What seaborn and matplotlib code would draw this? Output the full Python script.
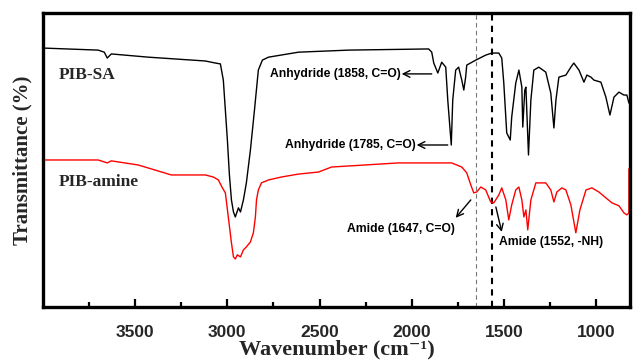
import numpy as np
import pandas as pd
import matplotlib
matplotlib.use("Agg")
import matplotlib.pyplot as plt
import seaborn as sns

# ---- data ----
sa_wavenumber = [4000, 3701, 3668, 3652, 3630, 3429, 3120, 3065, 3038, 3022, 3011, 3000, 2989,
                 2978, 2967, 2957, 2940, 2929, 2913, 2897, 2875, 2853, 2832, 2810, 2777, 2614,
                 2342, 1908, 1891, 1880, 1858, 1837, 1815, 1804, 1785, 1777, 1761, 1745, 1728,
                 1717, 1707, 1701, 1652, 1598, 1565, 1527, 1511, 1500, 1484, 1465, 1457, 1435,
                 1418, 1402, 1397, 1386, 1380, 1366, 1353, 1337, 1310, 1272, 1245, 1228, 1217,
                 1201, 1163, 1136, 1120, 1092, 1065, 1049, 1027, 1011, 973, 946, 924, 902,
                 875, 848, 832, 821]
sa_transmittance = [88.1, 87.4, 86.7, 84.7, 86.1, 85.0, 83.7, 83.0, 82.7, 77.2, 67.0, 56.8, 44.9,
                    36.4, 32.3, 30.6, 33.7, 32.3, 36.4, 42.2, 53.4, 67.0, 80.6, 84.0, 85.0, 86.7,
                    87.4, 87.8, 86.7, 83.0, 79.6, 83.3, 81.6, 70.4, 55.1, 70.4, 80.6, 81.6, 77.2,
                    73.8, 78.2, 82.3, 84.0, 85.7, 86.4, 86.4, 84.7, 76.2, 59.2, 56.8, 64.6, 76.2,
                    80.6, 74.8, 61.2, 73.8, 74.8, 51.7, 70.4, 80.6, 81.6, 79.9, 72.8, 60.9, 70.4,
                    78.2, 78.9, 81.6, 83.0, 80.6, 76.5, 78.9, 78.2, 77.2, 76.5, 71.4, 65.3, 71.4,
                    73.1, 72.1, 72.1, 69.4]

amine_wavenumber = [4000, 3701, 3652, 3630, 3484, 3304, 3120, 3076, 3049, 3027, 3011, 2995, 2978,
                    2967, 2957, 2946, 2929, 2913, 2897, 2875, 2859, 2848, 2842, 2832, 2815, 2777,
                    2707, 2614, 2505, 2435, 2071, 1783, 1728, 1701, 1679, 1663, 1647, 1625, 1598,
                    1571, 1554, 1527, 1511, 1489, 1473, 1457, 1435, 1418, 1402, 1391, 1380, 1370,
                    1353, 1326, 1272, 1245, 1228, 1212, 1185, 1163, 1136, 1109, 1087, 1054, 1022,
                    984, 946, 913, 875, 848, 832, 821, 821]
amine_transmittance = [50.0, 50.0, 49.0, 49.7, 48.3, 44.9, 44.9, 44.2, 43.2, 40.5, 38.8, 30.6, 21.8,
                       17.0, 16.3, 17.7, 17.0, 19.4, 20.4, 22.1, 25.2, 30.6, 36.4, 39.8, 42.2, 43.2,
                       44.2, 45.2, 45.9, 47.6, 49.0, 49.0, 47.6, 45.6, 41.5, 38.8, 39.1, 40.8, 39.8,
                       35.7, 35.4, 38.1, 40.5, 36.4, 29.6, 34.7, 39.8, 40.8, 36.4, 30.6, 33.0, 26.2,
                       36.4, 42.2, 42.2, 39.8, 35.7, 39.1, 40.5, 39.8, 34.7, 25.2, 33.0, 39.8, 40.5,
                       39.1, 37.1, 35.4, 34.4, 32.0, 31.3, 32.0, 47.0]

series_names = ["PIB-SA", "PIB-amine"]
series_colors = ["black", "#ff0000"]
marker_lines = [1650, 1565]
xticks_major = [3500, 3000, 2500, 2000, 1500, 1000]
xticks_minor = [3750, 3250, 2750, 2250, 1750, 1250]

df = pd.concat([
    pd.DataFrame({"wavenumber": sa_wavenumber, "T": sa_transmittance, "sample": series_names[0]}),
    pd.DataFrame({"wavenumber": amine_wavenumber, "T": amine_transmittance, "sample": series_names[1]}),
], ignore_index=True)

sns.set_theme(style="ticks")
plt.rcParams["font.family"] = ["Liberation Sans", "DejaVu Sans"]

fig = plt.figure(figsize=(6.34, 3.64), dpi=100)
ax = fig.add_axes([0.068, 0.157, 0.926, 0.807])

for name, col in zip(series_names, series_colors):
    sub = df[df["sample"] == name]
    sns.lineplot(data=sub, x="wavenumber", y="T", sort=False, estimator=None,
                 color=col, lw=1.0, ax=ax, legend=False)

ax.axvline(marker_lines[0], color="#777777", lw=0.8, ls=(0, (4, 3)), zorder=1)
ax.axvline(marker_lines[1], color="black", lw=1.5, ls=(0, (3, 2.5)), zorder=1)

ax.set_xlim(4000, 814)
ax.set_ylim(0, 100)
ax.set_xticks(xticks_major)
ax.set_xticks(xticks_minor, minor=True)
ax.set_yticks([])
ax.tick_params(axis="x", which="major", direction="in", length=6, width=1.6,
               labelsize=12.5, pad=13, color="black")
ax.tick_params(axis="x", which="minor", direction="in", length=3.5, width=1.6, color="black")
for lab in ax.get_xticklabels():
    lab.set_fontweight("bold")
for sp in ax.spines.values():
    sp.set_linewidth(2.4)
    sp.set_color("black")

ax.set_xlabel("Wavenumber (cm\u207b\u00b9)", fontsize=16, fontweight="bold",
              family=["Liberation Serif", "DejaVu Serif"], labelpad=0)
ax.set_ylabel("Transmittance (%)", fontsize=15, fontweight="bold",
              family=["Liberation Serif"], labelpad=8)

ax.text(3918, 78.9, "PIB-SA", fontsize=12.5, fontweight="bold", family=["Liberation Serif"],
        va="center", ha="left")
ax.text(3918, 42.5, "PIB-amine", fontsize=12.5, fontweight="bold", family=["Liberation Serif"],
        va="center", ha="left")

ann_kw = dict(fontsize=8.7, fontweight="bold", color="black")
arrow = dict(arrowstyle="->", color="black", lw=1.0, shrinkA=0, shrinkB=0)
ax.annotate("", xy=(2054, 79.3), xytext=(1891, 79.3), arrowprops=arrow)
ax.text(2060, 79.3, "Anhydride (1858, C=O)", ha="right", va="center", **ann_kw)
ax.annotate("", xy=(1973, 55.1), xytext=(1804, 55.1), arrowprops=arrow)
ax.text(1979, 55.1, "Anhydride (1785, C=O)", ha="right", va="center", **ann_kw)
ax.annotate("", xy=(1761, 30.3), xytext=(1679, 36.4), arrowprops=arrow)
ax.text(1766, 26.5, "Amide (1647, C=O)", ha="right", va="center", **ann_kw)
ax.annotate("", xy=(1511, 25.5), xytext=(1543, 34.0), arrowprops=arrow)
ax.text(1525, 22.1, "Amide (1552, -NH)", ha="left", va="center", **ann_kw)

fig.savefig("out.png", dpi=100)
